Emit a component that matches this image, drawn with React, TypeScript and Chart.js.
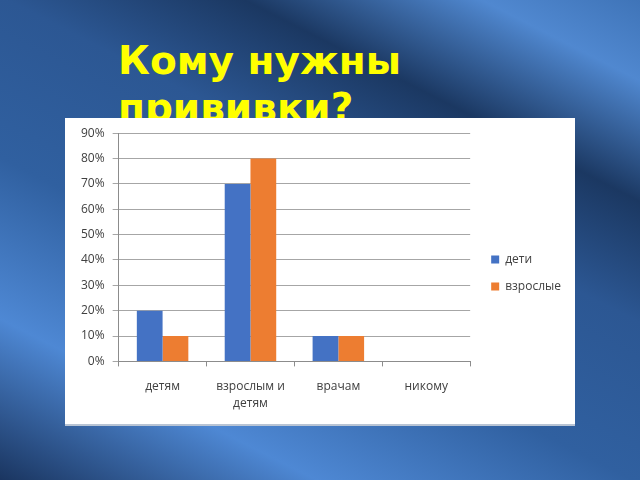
import React, { useEffect, useRef } from "react";
import { Chart, registerables } from "chart.js";

Chart.register(...registerables);

const categories: (string | string[])[] = ["детям", ["взрослым и", "детям"], "врачам", "никому"];
const seriesNames = ["дети", "взрослые"];
const childrenValues = [20, 70, 10, 0];
const adultValues = [10, 80, 10, 0];
const seriesColors = ["#4472C4", "#ED7D31"];
const yMax = 90;
const yStep = 10;

const legendShiftPlugin = {
  id: "legendShift",
  afterLayout(chart: any) {
    const lg = chart.legend;
    if (!lg) return;
    const dx = 6;
    const dy = -5;
    lg.left += dx;
    lg.right += dx;
    lg.top += dy;
    lg.bottom += dy;
  },
};

export default function App() {
  const canvasRef = useRef<HTMLCanvasElement | null>(null);

  useEffect(() => {
    if (!canvasRef.current) return;
    const font = { family: "'Open Sans', sans-serif", size: 12, lineHeight: 1.4 };
    const chart = new Chart(canvasRef.current, {
      type: "bar",
      data: {
        labels: categories,
        datasets: [
          {
            label: seriesNames[0],
            data: childrenValues,
            backgroundColor: seriesColors[0],
            categoryPercentage: 0.586,
            barPercentage: 1,
          },
          {
            label: seriesNames[1],
            data: adultValues,
            backgroundColor: seriesColors[1],
            categoryPercentage: 0.586,
            barPercentage: 1,
          },
        ],
      },
      plugins: [legendShiftPlugin],
      options: {
        animation: false,
        responsive: false,
        maintainAspectRatio: false,
        layout: { padding: { left: 8, right: 10, top: 14, bottom: 0 } },
        plugins: {
          title: { display: false },
          tooltip: { enabled: false },
          legend: {
            position: "right",
            align: "center",
            labels: {
              boxWidth: 8,
              boxHeight: 8,
              padding: 15,
              color: "#404040",
              font: { family: "'Open Sans', sans-serif", size: 12 },
            },
          },
        },
        scales: {
          x: {
            grid: {
              display: true,
              drawOnChartArea: false,
              drawTicks: true,
              tickLength: 5,
              color: "#8c8c8c",
              offset: true,
            },
            border: { display: true, color: "#8c8c8c" },
            ticks: {
              color: "#404040",
              font,
              padding: 12,
              maxRotation: 0,
            },
          },
          y: {
            min: 0,
            max: yMax,
            grid: {
              color: "#a6a6a6",
              tickLength: 6,
              drawTicks: true,
            },
            border: { display: true, color: "#8c8c8c" },
            ticks: {
              stepSize: yStep,
              color: "#404040",
              font: { family: "'Open Sans', sans-serif", size: 12 },
              padding: 8,
              callback: (v: any) => v + "%",
            },
          },
        },
      },
    });
    return () => chart.destroy();
  }, []);

  return (
    <div
      style={{
        position: "fixed",
        left: 0,
        top: 0,
        width: 640,
        height: 480,
        overflow: "hidden",
        background:
          "linear-gradient(207deg, #3f74b8 0%, #5088d0 10%, #1b3862 25%, #2c5793 40%, #3060a0 60%, #4e88d4 80%, #1a3560 100%)",
      }}
    >
      <div
        style={{
          position: "absolute",
          left: 118,
          top: 37,
          width: 330,
          color: "#FFFF00",
          fontFamily: "'DejaVu Sans', sans-serif",
          fontWeight: "bold",
          fontSize: 39,
          lineHeight: "47px",
          whiteSpace: "normal",
        }}
      >
        Кому нужны прививки?
      </div>
      <div
        style={{
          position: "absolute",
          left: 65,
          top: 118,
          width: 510,
          height: 306,
          background: "#ffffff",
          borderBottom: "2px solid #b8c4d4",
        }}
      >
        <canvas ref={canvasRef} width={510} height={306} style={{ display: "block" }} />
      </div>
    </div>
  );
}
